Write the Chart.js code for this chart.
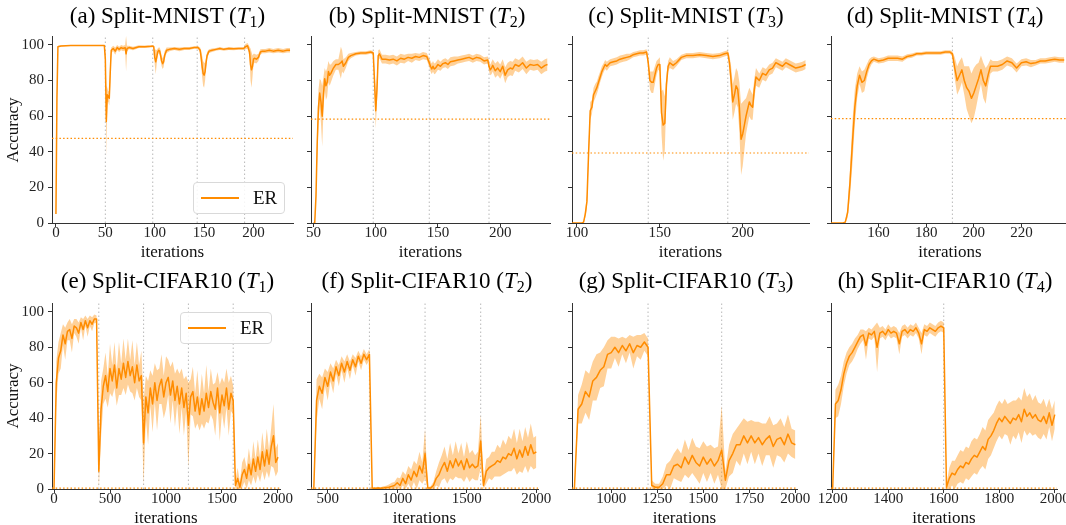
<!DOCTYPE html>
<html><head><meta charset="utf-8">
<script src="https://cdn.jsdelivr.net/npm/chart.js@4.4.1/dist/chart.umd.min.js"></script>
<style>
html,body{margin:0;padding:0;background:#fff;overflow:hidden}
#wrap{position:relative;width:1066px;height:525px;overflow:hidden;background:#fff;font-family:'Liberation Serif','Times New Roman',serif;color:#000}
canvas{position:absolute}
.ttl{position:absolute;width:300px;text-align:center;font-size:23px;line-height:23px;white-space:nowrap}
.ttl sub{font-size:16px;vertical-align:-4px;line-height:0}
.xl{position:absolute;width:140px;text-align:center;font-size:17px;line-height:17px;color:#111}
.yl{position:absolute;width:120px;height:20px;text-align:center;font-size:17px;line-height:20px;color:#111;transform:rotate(-90deg)}
.lg{position:absolute;width:92px;height:32px;box-sizing:border-box;border:1px solid #d9d9d9;border-radius:4px;background:rgba(255,255,255,0.85)}
.lg .ln{position:absolute;left:7px;top:14px;width:38px;height:1.6px;background:#ff8c00}
.lg .tx{position:absolute;left:59px;top:4px;font-size:19px;line-height:22px;color:#111}
</style></head>
<body><div id="wrap"></div>
<script>
// ---------------- data ----------------
const yTicks = [0, 20, 40, 60, 80, 100];

// (a) Split-MNIST T1
const aX = [
0, 1, 2, 5, 15, 30, 45, 49, 50, 51,
52, 53, 54, 55, 56, 58, 60, 62, 64, 66,
68, 70, 71, 72, 74, 78, 84, 90, 96, 98,
99, 100, 101, 102, 103, 104, 105, 106, 107, 108,
109, 110, 112, 115, 120, 125, 130, 135, 140, 144,
146, 147, 148, 149, 150, 151, 152, 153, 155, 158,
162, 166, 170, 175, 180, 185, 190, 192, 194, 196,
197, 198, 199, 200, 201, 203, 205, 207, 209, 212,
216, 220, 225, 230, 234, 237];
const aM = [
5, 70, 99, 99.4, 99.6, 99.7, 99.7, 99.6, 92, 57,
72, 71, 70, 85, 97, 98, 96.5, 98.5, 97.5, 98.5,
98, 98.5, 95, 98, 98.5, 98, 99, 99, 99.2, 99.3,
99, 93, 90.5, 93, 96, 97, 96.5, 94, 91, 89.5,
90.5, 94, 97, 97.5, 98, 97.5, 98, 98, 98.5, 98.5,
97, 93, 88, 84, 83, 85, 90, 94, 96.5, 97,
97.5, 98, 97.5, 98, 97.8, 98, 98, 99, 99.5, 96,
89, 86, 88, 92, 92.5, 92, 93, 96, 96.5, 96.5,
97, 96.5, 97, 96.5, 97, 97];
const aS = [
0, 5, 0.5, 0.3, 0.2, 0.2, 0.2, 0.3, 4, 20,
4, 3, 4, 8, 1.5, 1.5, 2, 1.5, 1.5, 1.5,
1.5, 1.5, 10, 1.5, 1, 1, 0.8, 0.7, 0.6, 0.6,
0.8, 4, 7, 4, 2, 1.5, 2, 3, 3, 3,
3, 2.5, 1.5, 1, 0.8, 1, 0.8, 0.8, 0.7, 0.8,
1.5, 4, 6, 7, 7, 5, 3, 2, 1, 1,
0.8, 0.8, 0.8, 0.8, 0.8, 0.7, 0.7, 1.5, 1.5, 3,
9, 10, 6, 3, 2.5, 2.5, 2, 1.5, 1.2, 1.2,
1.2, 1.2, 1.2, 1.2, 1.2, 1.2];
const aTicks = [0, 50, 100, 150, 200];
const aBounds = [50, 98, 143, 191];
const aChance = 47.5;

// (b) Split-MNIST T2
const bX = [
50, 51, 52, 53, 54, 55, 56, 57, 58, 59,
60, 61, 62, 63, 64, 66, 68, 70, 72, 73,
74, 76, 78, 80, 84, 88, 92, 96, 98, 99,
100, 101, 102, 103, 105, 108, 111, 114, 117, 120,
123, 126, 129, 132, 135, 138, 141, 143, 144, 145,
146, 147, 148, 150, 152, 154, 156, 158, 160, 163,
166, 169, 172, 175, 178, 181, 184, 187, 190, 191,
192, 193, 194, 196, 198, 200, 202, 204, 206, 208,
210, 212, 215, 218, 221, 224, 227, 230, 233, 236,
238];
const bM = [
0, 0, 15, 45, 65, 73, 68, 60, 72, 81,
77, 79, 85, 83, 84, 87, 89, 89, 90, 91,
88, 90, 93, 94, 95, 95.5, 95.5, 96, 95.5, 80,
63, 75, 94, 95, 92, 92, 91.5, 92, 91, 92.5,
92, 93, 92.5, 93.5, 93, 94, 93.5, 90, 88, 86.5,
88, 86.5, 87, 89, 88, 89.5, 90, 89, 90.5, 91,
91.5, 92, 92.5, 93, 92, 93, 92.5, 91, 91.5, 88,
86, 87, 88.5, 85.5, 87, 85, 88, 83, 86, 87,
86.5, 89, 88, 90, 87, 89, 88.5, 89, 87, 88.5,
89];
const bS = [
0, 0, 3, 10, 10, 8, 12, 17, 10, 6,
8, 8, 6, 6, 5, 4, 3, 3, 9, 6,
4, 3, 2, 1.5, 1, 1, 1, 1, 1, 6,
10, 8, 3, 2.5, 2.5, 2.5, 2.5, 2.5, 2.5, 2.5,
2.5, 2, 2.5, 2, 2, 2, 2, 2.5, 3, 3,
3, 3, 3, 3, 2.5, 2.5, 2.5, 2.5, 2.5, 2.5,
2, 2, 2, 2, 2, 2, 2, 2, 2, 3,
3, 3.5, 3.5, 4, 4, 4, 4, 4.5, 4, 4,
4, 3.5, 3.5, 3.5, 3.5, 3, 3, 3, 3.5, 3.5,
3.5];
const bTicks = [50, 100, 150, 200];
const bBounds = [98, 143, 191];
const bChance = 58.3;

// (c) Split-MNIST T3
const cX = [
97, 100, 103, 104, 105, 106, 107, 108, 109, 110,
111, 112, 113, 114, 115, 116, 117, 118, 120, 122,
124, 126, 128, 130, 132, 134, 136, 138, 140, 142,
143, 144, 145, 146, 147, 148, 149, 150, 151, 152,
153, 154, 155, 156, 158, 160, 163, 166, 170, 174,
178, 182, 186, 189, 191, 192, 193, 194, 195, 196,
197, 198, 199, 200, 201, 202, 203, 204, 205, 206,
207, 208, 210, 212, 214, 216, 218, 220, 222, 224,
226, 228, 230, 232, 234, 236, 238];
const cM = [
0, 0, 0, 0.5, 5, 12, 39, 63, 65, 72,
74, 76, 79, 82, 85, 87, 89, 88, 90, 90.5,
91, 92, 92.5, 93, 93.5, 94.5, 95, 95.5, 95.5, 96,
90, 80, 79, 79, 83, 87, 89, 89, 62, 55,
56, 78, 88, 90, 88.5, 90, 93, 94, 94, 94.5,
94, 93.5, 94, 95, 95.5, 90, 80, 68, 72, 77,
75, 65, 47, 50, 55, 60, 64, 68, 66, 65,
75, 82, 80, 84, 83, 86, 87, 90, 89, 88,
90, 89, 88, 87, 87.5, 88, 89];
const cS = [
0, 0, 0, 0.5, 2, 4, 5, 5, 4, 4,
4, 3.5, 3.5, 3, 3, 2.5, 2.5, 2.5, 2, 2,
2, 2, 2, 2, 1.5, 1.5, 1.5, 1.5, 1.5, 1.5,
3, 5, 6, 6, 5, 4, 3, 4, 12, 20,
15, 6, 3, 3, 2.5, 2, 1.5, 1.5, 1.5, 1.5,
1.5, 1.5, 1.5, 1.5, 1.5, 4, 8, 10, 10, 10,
10, 14, 20, 18, 14, 10, 9, 8, 8, 7,
6, 5, 4, 3.5, 3.5, 3, 3, 2.5, 2.5, 2.5,
2.5, 2.5, 2.5, 2.5, 2.5, 2.5, 2.5];
const cTicks = [100, 150, 200];
const cBounds = [143, 191];
const cChance = 39.3;

// (d) Split-MNIST T4
const dX = [
140, 143, 145, 146, 147, 148, 149, 150, 151, 152,
153, 154, 155, 156, 157, 158, 160, 162, 164, 166,
168, 170, 172, 174, 176, 178, 180, 182, 184, 186,
188, 190, 191, 192, 193, 194, 195, 196, 197, 198,
199, 200, 201, 202, 203, 204, 205, 206, 207, 208,
210, 212, 214, 216, 218, 220, 222, 224, 226, 228,
230, 232, 234, 236, 238];
const dM = [
0, 0, 0, 0.5, 6, 23, 45, 65, 77, 83,
79, 80, 85, 89, 91, 92, 91, 91.5, 92.5, 92.5,
92.5, 92, 93.5, 94, 95, 95, 95.5, 95.5, 95.5, 95.5,
96, 96, 95, 87, 80, 83, 86, 80, 76, 74,
70, 73, 77, 81, 86, 80, 77, 83, 88, 88,
88, 89, 91, 90, 87, 90, 90.5, 89.5, 90, 91,
91, 91.5, 92, 91.5, 91.5];
const dS = [
0, 0, 0, 0.5, 3, 8, 12, 10, 7, 5,
6, 6, 4, 3, 2, 1.5, 1.5, 1.5, 1.5, 1.5,
1.5, 1.5, 1.2, 1.2, 1, 1, 1, 1, 1, 1,
1, 1, 1.5, 6, 8, 8, 7, 8, 12, 14,
14, 14, 12, 9, 8, 10, 10, 6, 4, 3,
3, 3, 2.5, 2.5, 2.5, 2, 2, 2, 1.5, 1.5,
1.5, 1.5, 1.5, 1.5, 1.5];
const dTicks = [160, 180, 200, 220];
const dBounds = [191];
const dChance = 58.6;

// (e) Split-CIFAR10 T1  (iterations 0..2000, every 20)
const eStart = 0, eStep = 20;
const eM = [
0, 60, 74, 78, 87, 82, 89, 90, 85, 92,
91, 88, 94, 90, 95, 91, 95, 93, 96, 96,
10, 45, 58, 64, 55, 68, 61, 70, 57, 68,
62, 71, 63, 72, 64, 69, 60, 70, 61, 64,
26, 52, 43, 57, 48, 60, 50, 58, 62, 52,
60, 63, 53, 61, 50, 58, 48, 57, 46, 54,
36, 52, 55, 44, 52, 42, 51, 44, 54, 46,
55, 49, 45, 57, 43, 53, 47, 57, 45, 54,
50, 2, 6, 1, 8, 11, 6, 14, 8, 17,
10, 18, 11, 21, 13, 22, 14, 24, 30, 15,
18];
const eS = [
0, 12, 9, 10, 6, 9, 5, 6, 8, 4,
5, 6, 3, 6, 3, 5, 3, 4, 2.5, 2,
10, 16, 10, 13, 9, 14, 9, 13, 10, 15,
9, 14, 10, 13, 9, 15, 10, 13, 9, 14,
24, 12, 18, 10, 16, 11, 17, 10, 14, 12,
15, 10, 16, 11, 15, 10, 17, 11, 16, 10,
24, 10, 14, 10, 15, 9, 14, 10, 16, 9,
13, 10, 15, 9, 16, 10, 13, 11, 15, 10,
8, 3, 6, 3, 7, 7, 6, 9, 6, 10,
7, 10, 7, 11, 8, 12, 8, 11, 18, 8,
8];
const eTicks = [0, 500, 1000, 1500, 2000];
const eBounds = [400, 800, 1200, 1600];
const eChance = 0.5;

// (f) Split-CIFAR10 T2  (iterations 400..2000, every 20)
const fStart = 400, fStep = 20;
const fM = [
0, 50, 58, 54, 63, 58, 66, 61, 69, 64,
71, 66, 72, 67, 73, 69, 75, 71, 76, 73,
76, 0.5, 0.3, 0.5, 0.4, 0.6, 0.8, 1, 1.5, 2,
3.5, 2, 6, 3, 8, 5, 10, 7, 13, 9,
20, 0.5, 0.5, 2, 6, 8, 12, 15, 10, 16,
12, 17, 13, 16, 11, 17, 12, 14, 12, 13,
27, 2, 10, 12, 13, 14, 16, 15, 18, 17,
20, 19, 23, 17, 22, 18, 24, 19, 25, 20,
21];
const fS = [
0, 12, 7, 9, 5, 8, 5, 7, 4, 6,
4, 6, 4, 5, 3, 5, 3, 4, 3, 3,
3, 0.5, 0.5, 0.8, 0.6, 1, 1, 1.5, 2, 2,
3, 4, 4, 5, 5, 6, 6, 7, 8, 6,
14, 0.5, 1, 2, 4, 7, 7, 9, 7, 10,
7, 10, 7, 10, 7, 10, 8, 8, 7, 8,
15, 3, 7, 6, 8, 7, 9, 8, 10, 8,
10, 9, 11, 9, 12, 9, 11, 10, 12, 9,
9];
const fTicks = [500, 1000, 1500, 2000];
const fBounds = [800, 1200, 1600];
const fChance = 0.5;

// (g) Split-CIFAR10 T3  (iterations 800..2000, every 20)
const gStart = 800, gStep = 20;
const gM = [
0, 45, 48, 55, 52, 61, 63, 67, 69, 76,
77, 80, 77, 81, 78, 82, 77, 81, 80, 83,
80, 2, 1, 1, 3, 8, 8, 13, 14, 12,
18, 14, 19, 15, 13, 18, 14, 17, 13, 16,
22, 5, 16, 20, 25, 25, 30, 26, 30, 26,
29, 25, 28, 30, 24, 28, 29, 25, 31, 26,
25];
const gS = [
0, 8, 11, 12, 13, 11, 13, 10, 11, 8,
9, 6, 8, 5, 7, 5, 9, 6, 7, 5,
5, 3, 2, 2, 4, 6, 8, 7, 9, 8,
10, 8, 10, 9, 10, 9, 10, 8, 10, 8,
25, 5, 9, 11, 9, 12, 10, 12, 9, 12,
9, 12, 9, 11, 12, 9, 11, 10, 11, 8,
8];
const gTicks = [1000, 1250, 1500, 1750, 2000];
const gBounds = [1200, 1600];
const gChance = 0.5;

// (h) Split-CIFAR10 T4  (iterations 1200..2000, every 10)
const hStart = 1200, hStep = 10;
const hM = [
0, 48, 50, 56, 65, 71, 75, 77, 80, 83,
86, 87, 81, 88, 87, 89, 80, 88, 89, 87,
90, 88, 89, 88, 82, 89, 90, 88, 90, 89,
91, 88, 82, 90, 89, 91, 90, 89, 91, 92,
91, 1, 6, 9, 8, 11, 13, 12, 15, 14,
17, 19, 18, 21, 24, 22, 28, 30, 33, 37,
40, 38, 41, 39, 37, 40, 39, 42, 38, 45,
41, 43, 40, 42, 39, 38, 41, 37, 43, 36,
42];
const hS = [
0, 8, 9, 8, 7, 6, 5, 5, 5, 4,
4, 3, 8, 3, 3, 3, 14, 3, 3, 3,
3, 3, 3, 3, 6, 3, 3, 3, 3, 3,
3, 3, 6, 3, 3, 3, 3, 3, 3, 3,
3, 2, 6, 7, 8, 8, 9, 9, 9, 9,
10, 10, 10, 10, 11, 11, 11, 11, 10, 10,
10, 10, 10, 9, 12, 10, 11, 10, 12, 12,
11, 11, 10, 11, 10, 10, 10, 9, 8, 9,
8];
const hTicks = [1200, 1400, 1600, 1800, 2000];
const hBounds = [1600];
const hChance = 0.5;

const titles = ['(a) Split-MNIST', '(b) Split-MNIST', '(c) Split-MNIST', '(d) Split-MNIST',
                '(e) Split-CIFAR10', '(f) Split-CIFAR10', '(g) Split-CIFAR10', '(h) Split-CIFAR10'];
const titleSubs = ['1', '2', '3', '4', '1', '2', '3', '4'];
const xLabel = 'iterations';
const yLabel = 'Accuracy';
const seriesName = 'ER';

// ---------------- layout / style ----------------
const FONT = "'Liberation Serif', 'Times New Roman', serif";
const ORANGE = '#ff8c00';
const BAND = 'rgba(255,140,0,0.4)';
const AX = '#333333';
const PADL = 55, PADT = 20, PADR = 30, PADB = 45;

const seq = (start, step, arr) => arr.map((_, i) => start + step * i);

const panels = [
  {x:aX, m:aM, s:aS, xt:aTicks, bd:aBounds, ch:aChance, l:52, r:293, t:36, b:223, xmin:-4, xmax:240, cx:167.5, ylab:true, legend:[193,182]},
  {x:bX, m:bM, s:bS, xt:bTicks, bd:bBounds, ch:bChance, l:311, r:550, t:36, b:223, xmin:48, xmax:240, cx:427},
  {x:cX, m:cM, s:cS, xt:cTicks, bd:cBounds, ch:cChance, l:572, r:809, t:36, b:223, xmin:97, xmax:240, cx:686},
  {x:dX, m:dM, s:dS, xt:dTicks, bd:dBounds, ch:dChance, l:831, r:1069, t:36, b:223, xmin:140, xmax:240, cx:945},
  {x:seq(eStart,eStep,eM), m:eM, s:eS, xt:eTicks, bd:eBounds, ch:eChance, l:52, r:280, t:303, b:489, xmin:-18, xmax:2018, cx:167.5, ylab:true, legend:[180,312]},
  {x:seq(fStart,fStep,fM), m:fM, s:fS, xt:fTicks, bd:fBounds, ch:fChance, l:311, r:538, t:303, b:489, xmin:380, xmax:2012, cx:427},
  {x:seq(gStart,gStep,gM), m:gM, s:gS, xt:gTicks, bd:gBounds, ch:gChance, l:572, r:797, t:303, b:489, xmin:787, xmax:2009, cx:686},
  {x:seq(hStart,hStep,hM), m:hM, s:hS, xt:hTicks, bd:hBounds, ch:hChance, l:831, r:1057, t:303, b:489, xmin:1194, xmax:2008, cx:945},
];

const wrap = document.getElementById('wrap');

panels.forEach((p, k) => {
  const cv = document.createElement('canvas');
  const w = (p.r - p.l) + PADL + PADR, h = (p.b - p.t) + PADT + PADB;
  cv.width = w; cv.height = h;
  cv.style.width = w + 'px'; cv.style.height = h + 'px';
  cv.style.left = (p.l - PADL) + 'px'; cv.style.top = (p.t - PADT) + 'px';
  wrap.appendChild(cv);

  const mean = p.m.map((v, i) => ({x: p.x[i], y: v}));
  const lower = p.m.map((v, i) => ({x: p.x[i], y: Math.max(0, v - p.s[i])}));
  const upper = p.m.map((v, i) => ({x: p.x[i], y: v + p.s[i]}));
  const vlines = [];
  p.bd.forEach(bv => { vlines.push({x: bv, y: 0}, {x: bv, y: 105}, {x: bv, y: null}); });
  const hline = [{x: p.xmin, y: p.ch}, {x: p.xmax, y: p.ch}];

  new Chart(cv, {
    type: 'line',
    data: { datasets: [
      {data: mean, borderColor: ORANGE, borderWidth: 1.5, pointRadius: 0, fill: false, tension: 0, order: 0, borderJoinStyle: 'round'},
      {data: lower, borderColor: 'rgba(0,0,0,0)', borderWidth: 0, pointRadius: 0, fill: false, tension: 0, order: 1},
      {data: upper, borderColor: 'rgba(0,0,0,0)', borderWidth: 0, pointRadius: 0, fill: '-1', backgroundColor: BAND, tension: 0, order: 1},
      {data: hline, borderColor: ORANGE, borderWidth: 1.2, borderDash: [1.5, 2.2], pointRadius: 0, fill: false, order: 2},
      {data: vlines, borderColor: '#b8b8b8', borderWidth: 1, borderDash: [1.5, 2.5], pointRadius: 0, fill: false, spanGaps: false, order: 3},
    ]},
    options: {
      responsive: false, animation: false, events: [],
      layout: {padding: {left: 0, top: PADT, right: PADR, bottom: 0}},
      plugins: {legend: {display: false}, tooltip: {enabled: false}, title: {display: false}},
      scales: {
        x: {
          type: 'linear', min: p.xmin, max: p.xmax,
          afterFit: s => { s.height = PADB; },
          afterBuildTicks: s => { s.ticks = p.xt.map(v => ({value: v})); },
          grid: {drawOnChartArea: false, drawTicks: true, tickLength: 4, color: AX, lineWidth: 1},
          border: {display: true, color: AX, width: 1},
          ticks: {font: {family: FONT, size: 15}, color: '#222', padding: -3, maxRotation: 0, autoSkip: false,
                  callback: v => String(v)}
        },
        y: {
          type: 'linear', min: 0, max: 105,
          afterFit: s => { s.width = PADL; },
          afterBuildTicks: s => { s.ticks = yTicks.map(v => ({value: v})); },
          grid: {drawOnChartArea: false, drawTicks: true, tickLength: 4, color: AX, lineWidth: 1},
          border: {display: true, color: AX, width: 1},
          ticks: {font: {family: FONT, size: 15}, color: '#222', padding: 4, autoSkip: false,
                  callback: v => p.ylab ? String(v) : ''}
        }
      }
    }
  });

  // title
  const t = document.createElement('div');
  t.className = 'ttl';
  t.style.left = (p.cx - 150) + 'px';
  t.style.top = (k < 4 ? 3.5 : 268.5) + 'px';
  t.innerHTML = titles[k] + ' (<i>T</i><sub>' + titleSubs[k] + '</sub>)';
  wrap.appendChild(t);

  // x label
  const xl = document.createElement('div');
  xl.className = 'xl';
  xl.style.left = ((p.l + p.r) / 2 - 70) + 'px';
  xl.style.top = (k < 4 ? 243 : 509) + 'px';
  xl.textContent = xLabel;
  wrap.appendChild(xl);

  if (p.ylab) {
    const yl = document.createElement('div');
    yl.className = 'yl';
    const cy = (p.t + p.b) / 2;
    yl.style.left = (13 - 60) + 'px';
    yl.style.top = (cy - 10) + 'px';
    yl.textContent = yLabel;
    wrap.appendChild(yl);
  }
  if (p.legend) {
    const lg = document.createElement('div');
    lg.className = 'lg';
    lg.style.left = p.legend[0] + 'px';
    lg.style.top = p.legend[1] + 'px';
    lg.innerHTML = '<span class="ln"></span><span class="tx">' + seriesName + '</span>';
    wrap.appendChild(lg);
  }
});
</script>
</body></html>
